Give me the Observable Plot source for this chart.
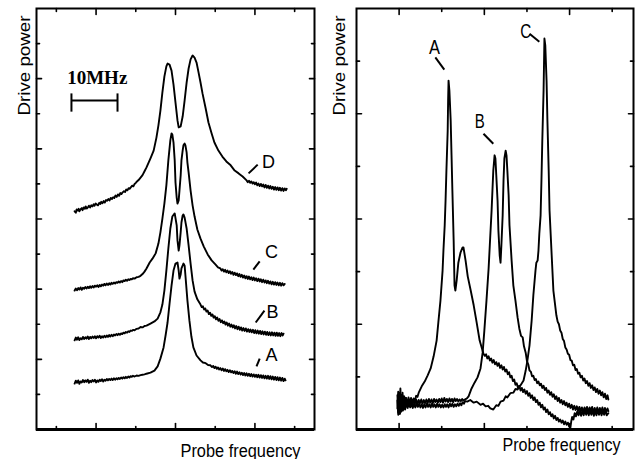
<!DOCTYPE html>
<html><head><meta charset="utf-8">
<script src="https://cdn.jsdelivr.net/npm/d3@7"></script>
<script src="https://cdn.jsdelivr.net/npm/@observablehq/plot@0.6"></script>
<style>
body{margin:0;background:#fff;width:641px;height:459px;overflow:hidden}
#wrap{display:flex;width:641px}
#wrap svg{display:block;max-width:none}
</style></head><body><div id="wrap"></div><script>
// ---------- Left panel: probe spectra at four drive powers (offset traces) ----------
const leftD = [[0.96,6.22],[0.99,6.18],[1.01,6.27],[1.04,6.24],[1.06,6.29],[1.08,6.22],[1.11,6.28],[1.14,6.31],[1.16,6.25],[1.19,6.33],[1.22,6.29],[1.24,6.36],[1.27,6.30],[1.30,6.34],[1.32,6.38],[1.35,6.33],[1.38,6.39],[1.41,6.36],[1.44,6.42],[1.46,6.38],[1.49,6.44],[1.52,6.41],[1.55,6.39],[1.58,6.46],[1.61,6.43],[1.63,6.49],[1.66,6.45],[1.69,6.51],[1.72,6.47],[1.75,6.54],[1.78,6.52],[1.81,6.57],[1.84,6.53],[1.87,6.60],[1.90,6.57],[1.93,6.62],[1.96,6.60],[1.99,6.67],[2.02,6.63],[2.05,6.70],[2.08,6.66],[2.11,6.74],[2.14,6.71],[2.17,6.76],[2.20,6.79],[2.23,6.77],[2.26,6.84],[2.29,6.82],[2.32,6.88],[2.35,6.86],[2.38,6.91],[2.41,6.95],[2.44,6.93],[2.47,7.00],[2.50,7.03],[2.53,7.07],[2.57,7.11],[2.62,7.18],[2.67,7.25],[2.72,7.36],[2.77,7.47],[2.82,7.60],[2.87,7.73],[2.95,7.95],[3.02,8.32],[3.07,8.67],[3.12,9.09],[3.17,9.61],[3.22,10.06],[3.27,10.35],[3.30,10.43],[3.35,10.40],[3.40,10.23],[3.45,9.83],[3.50,9.32],[3.55,8.81],[3.58,8.61],[3.63,8.64],[3.68,8.92],[3.73,9.38],[3.78,9.89],[3.83,10.29],[3.88,10.55],[3.93,10.66],[3.98,10.60],[4.03,10.46],[4.08,10.18],[4.13,9.89],[4.18,9.58],[4.26,9.15],[4.33,8.75],[4.41,8.44],[4.48,8.18],[4.58,7.95],[4.68,7.78],[4.78,7.64],[4.89,7.53],[4.99,7.38],[5.09,7.30],[5.19,7.21],[5.29,7.10],[5.32,7.05],[5.35,7.09],[5.38,7.03],[5.41,7.07],[5.44,7.01],[5.47,7.05],[5.50,6.99],[5.53,7.04],[5.56,6.96],[5.59,7.01],[5.62,6.94],[5.65,7.00],[5.68,6.93],[5.71,6.98],[5.74,6.90],[5.77,6.97],[5.80,6.89],[5.83,6.95],[5.86,6.87],[5.89,6.94],[5.92,6.86],[5.95,6.92],[5.98,6.84],[6.01,6.91],[6.04,6.83],[6.07,6.90],[6.10,6.82],[6.13,6.89],[6.16,6.81],[6.19,6.88],[6.22,6.80],[6.25,6.87],[6.28,6.82],[6.30,6.86]];
const leftC = [[0.96,3.96],[0.99,4.02],[1.02,3.97],[1.05,4.03],[1.08,3.99],[1.11,4.05],[1.14,3.98],[1.17,4.04],[1.20,4.01],[1.23,4.06],[1.26,4.02],[1.29,4.07],[1.32,4.03],[1.35,4.08],[1.38,4.04],[1.41,4.09],[1.44,4.05],[1.47,4.10],[1.50,4.07],[1.53,4.11],[1.56,4.06],[1.59,4.12],[1.62,4.08],[1.65,4.13],[1.68,4.10],[1.71,4.15],[1.74,4.11],[1.77,4.16],[1.80,4.12],[1.83,4.17],[1.86,4.13],[1.89,4.18],[1.92,4.15],[1.95,4.19],[1.98,4.16],[2.01,4.20],[2.04,4.18],[2.07,4.22],[2.10,4.19],[2.13,4.23],[2.16,4.20],[2.19,4.25],[2.22,4.23],[2.25,4.27],[2.28,4.24],[2.31,4.28],[2.34,4.26],[2.37,4.29],[2.40,4.28],[2.43,4.31],[2.47,4.30],[2.52,4.34],[2.57,4.35],[2.62,4.38],[2.67,4.43],[2.72,4.50],[2.77,4.59],[2.85,4.76],[2.92,4.87],[3.00,5.02],[3.07,5.30],[3.12,5.62],[3.17,6.01],[3.22,6.44],[3.27,6.96],[3.32,7.67],[3.37,8.24],[3.40,8.44],[3.42,8.41],[3.45,8.18],[3.48,7.67],[3.50,7.04],[3.53,6.61],[3.55,6.44],[3.58,6.53],[3.60,6.81],[3.63,7.24],[3.65,7.67],[3.68,7.95],[3.70,8.10],[3.73,8.15],[3.75,8.10],[3.78,7.90],[3.80,7.61],[3.83,7.33],[3.88,6.81],[3.93,6.39],[3.98,6.07],[4.05,5.70],[4.13,5.44],[4.21,5.22],[4.31,4.99],[4.41,4.82],[4.51,4.70],[4.57,4.62],[4.63,4.59],[4.66,4.53],[4.69,4.57],[4.72,4.50],[4.75,4.55],[4.78,4.48],[4.81,4.53],[4.84,4.46],[4.87,4.51],[4.90,4.44],[4.93,4.49],[4.96,4.41],[4.99,4.47],[5.02,4.40],[5.05,4.45],[5.08,4.37],[5.11,4.43],[5.14,4.35],[5.17,4.41],[5.20,4.33],[5.23,4.39],[5.26,4.31],[5.29,4.37],[5.32,4.29],[5.35,4.36],[5.38,4.28],[5.41,4.34],[5.44,4.26],[5.47,4.33],[5.50,4.25],[5.53,4.31],[5.56,4.23],[5.59,4.30],[5.62,4.22],[5.65,4.28],[5.68,4.20],[5.71,4.27],[5.74,4.19],[5.77,4.25],[5.80,4.17],[5.83,4.24],[5.86,4.16],[5.89,4.22],[5.92,4.14],[5.95,4.21],[5.98,4.13],[6.01,4.20],[6.04,4.12],[6.07,4.19],[6.10,4.11],[6.13,4.18],[6.16,4.10],[6.19,4.17],[6.22,4.11],[6.25,4.15]];
const leftB = [[0.96,2.54],[0.99,2.62],[1.02,2.56],[1.05,2.63],[1.08,2.55],[1.11,2.60],[1.14,2.57],[1.17,2.64],[1.20,2.58],[1.23,2.63],[1.26,2.59],[1.29,2.65],[1.32,2.58],[1.35,2.64],[1.38,2.60],[1.41,2.65],[1.44,2.61],[1.47,2.66],[1.50,2.60],[1.53,2.66],[1.56,2.62],[1.59,2.67],[1.62,2.61],[1.65,2.66],[1.68,2.62],[1.71,2.67],[1.74,2.63],[1.77,2.68],[1.80,2.64],[1.83,2.69],[1.86,2.65],[1.89,2.70],[1.92,2.66],[1.95,2.71],[1.98,2.68],[2.01,2.72],[2.04,2.69],[2.07,2.73],[2.10,2.70],[2.13,2.74],[2.16,2.72],[2.19,2.76],[2.22,2.74],[2.25,2.78],[2.28,2.76],[2.31,2.80],[2.34,2.78],[2.37,2.82],[2.40,2.81],[2.43,2.84],[2.47,2.83],[2.52,2.87],[2.57,2.88],[2.62,2.92],[2.67,2.91],[2.72,2.95],[2.77,2.96],[2.87,3.02],[2.97,3.08],[3.05,3.16],[3.12,3.34],[3.17,3.56],[3.22,3.96],[3.27,4.53],[3.32,5.16],[3.37,5.73],[3.42,6.07],[3.48,6.16],[3.53,5.82],[3.55,5.39],[3.58,5.10],[3.60,5.25],[3.63,5.62],[3.65,5.90],[3.68,6.10],[3.70,6.13],[3.73,6.04],[3.78,5.73],[3.83,5.25],[3.88,4.73],[3.93,4.25],[3.98,3.93],[4.05,3.71],[4.13,3.56],[4.16,3.49],[4.19,3.51],[4.22,3.42],[4.25,3.45],[4.28,3.36],[4.31,3.39],[4.34,3.29],[4.37,3.33],[4.40,3.24],[4.43,3.28],[4.46,3.19],[4.49,3.23],[4.52,3.14],[4.55,3.19],[4.58,3.10],[4.61,3.15],[4.64,3.06],[4.67,3.11],[4.70,3.03],[4.73,3.08],[4.76,2.99],[4.79,3.05],[4.82,2.96],[4.85,3.02],[4.88,2.93],[4.91,2.99],[4.94,2.91],[4.97,2.97],[5.00,2.88],[5.03,2.95],[5.06,2.86],[5.09,2.93],[5.12,2.84],[5.15,2.91],[5.18,2.82],[5.21,2.89],[5.24,2.81],[5.27,2.88],[5.30,2.79],[5.33,2.86],[5.36,2.78],[5.39,2.85],[5.42,2.77],[5.45,2.84],[5.48,2.75],[5.51,2.83],[5.54,2.74],[5.57,2.82],[5.60,2.73],[5.63,2.81],[5.66,2.72],[5.69,2.80],[5.72,2.71],[5.75,2.79],[5.78,2.70],[5.81,2.78],[5.84,2.69],[5.87,2.77],[5.90,2.68],[5.93,2.77],[5.96,2.68],[5.99,2.76],[6.02,2.67],[6.05,2.76],[6.08,2.67],[6.11,2.75],[6.14,2.66],[6.17,2.75],[6.20,2.68],[6.22,2.73]];
const leftA = [[0.96,1.31],[0.99,1.39],[1.02,1.33],[1.05,1.40],[1.08,1.30],[1.11,1.37],[1.14,1.34],[1.17,1.41],[1.20,1.35],[1.23,1.40],[1.26,1.36],[1.29,1.42],[1.32,1.33],[1.35,1.39],[1.38,1.35],[1.41,1.41],[1.44,1.37],[1.47,1.42],[1.50,1.34],[1.53,1.40],[1.56,1.36],[1.59,1.42],[1.62,1.38],[1.65,1.43],[1.68,1.37],[1.71,1.42],[1.74,1.39],[1.77,1.44],[1.80,1.40],[1.83,1.44],[1.86,1.41],[1.89,1.45],[1.92,1.41],[1.95,1.46],[1.98,1.42],[2.01,1.46],[2.04,1.43],[2.07,1.47],[2.10,1.44],[2.13,1.48],[2.16,1.45],[2.19,1.49],[2.22,1.46],[2.25,1.50],[2.28,1.47],[2.31,1.51],[2.34,1.48],[2.37,1.52],[2.40,1.50],[2.43,1.53],[2.47,1.51],[2.52,1.54],[2.57,1.53],[2.62,1.55],[2.67,1.56],[2.72,1.57],[2.77,1.59],[2.87,1.62],[2.97,1.68],[3.05,1.80],[3.12,2.02],[3.20,2.34],[3.25,2.68],[3.30,3.05],[3.35,3.59],[3.40,4.10],[3.45,4.53],[3.50,4.73],[3.55,4.76],[3.58,4.53],[3.60,4.30],[3.63,4.42],[3.65,4.59],[3.70,4.73],[3.73,4.67],[3.75,4.39],[3.80,3.68],[3.85,3.11],[3.90,2.65],[3.95,2.34],[4.03,2.11],[4.13,1.97],[4.19,1.91],[4.26,1.89],[4.32,1.84],[4.38,1.83],[4.42,1.78],[4.45,1.81],[4.48,1.75],[4.51,1.79],[4.54,1.73],[4.57,1.77],[4.60,1.71],[4.63,1.75],[4.66,1.69],[4.69,1.74],[4.72,1.67],[4.75,1.72],[4.78,1.66],[4.81,1.70],[4.84,1.64],[4.87,1.69],[4.90,1.63],[4.93,1.67],[4.96,1.61],[4.99,1.66],[5.02,1.59],[5.05,1.65],[5.08,1.58],[5.11,1.63],[5.14,1.57],[5.17,1.62],[5.20,1.55],[5.23,1.61],[5.26,1.54],[5.29,1.60],[5.32,1.53],[5.35,1.59],[5.38,1.52],[5.41,1.58],[5.44,1.51],[5.47,1.57],[5.50,1.50],[5.53,1.56],[5.56,1.49],[5.59,1.56],[5.62,1.48],[5.65,1.55],[5.68,1.47],[5.71,1.54],[5.74,1.46],[5.77,1.53],[5.80,1.45],[5.83,1.53],[5.86,1.44],[5.89,1.52],[5.92,1.43],[5.95,1.51],[5.98,1.42],[6.01,1.50],[6.04,1.41],[6.07,1.49],[6.10,1.40],[6.13,1.48],[6.16,1.39],[6.19,1.47],[6.22,1.38],[6.25,1.45],[6.27,1.40]];

// ---------- Right panel: spectra A, B, C ----------
const rightA = [[0.96,0.40],[0.98,0.72],[0.99,0.38],[1.01,0.66],[1.02,0.30],[1.04,0.62],[1.06,0.36],[1.08,0.70],[1.10,0.44],[1.12,0.63],[1.14,0.41],[1.16,0.60],[1.19,0.45],[1.22,0.61],[1.25,0.48],[1.28,0.60],[1.31,0.50],[1.34,0.59],[1.37,0.55],[1.40,0.64],[1.43,0.62],[1.46,0.70],[1.53,0.82],[1.60,0.91],[1.67,1.03],[1.74,1.16],[1.81,1.39],[1.88,1.69],[1.92,2.03],[1.97,2.45],[2.02,3.02],[2.04,3.40],[2.07,3.88],[2.09,4.35],[2.11,4.92],[2.14,5.68],[2.15,6.25],[2.16,6.63],[2.18,6.44],[2.21,5.87],[2.23,5.21],[2.25,4.54],[2.28,3.59],[2.30,2.74],[2.32,2.64],[2.35,2.83],[2.39,3.17],[2.44,3.36],[2.49,3.46],[2.51,3.46],[2.56,3.21],[2.61,2.91],[2.68,2.64],[2.75,2.36],[2.82,2.03],[2.89,1.69],[2.98,1.44],[3.01,1.40],[3.04,1.43],[3.07,1.35],[3.10,1.39],[3.13,1.31],[3.16,1.35],[3.19,1.27],[3.22,1.32],[3.25,1.24],[3.28,1.28],[3.31,1.21],[3.34,1.26],[3.37,1.17],[3.40,1.22],[3.43,1.14],[3.46,1.19],[3.49,1.10],[3.52,1.14],[3.55,1.05],[3.58,1.09],[3.61,0.99],[3.64,1.02],[3.67,0.92],[3.70,0.95],[3.73,0.85],[3.76,0.88],[3.79,0.79],[3.82,0.83],[3.85,0.74],[3.88,0.79],[3.91,0.71],[3.94,0.76],[3.97,0.68],[4.00,0.73],[4.03,0.64],[4.06,0.69],[4.09,0.60],[4.12,0.65],[4.15,0.56],[4.18,0.61],[4.21,0.52],[4.24,0.56],[4.27,0.47],[4.30,0.51],[4.33,0.42],[4.36,0.47],[4.39,0.38],[4.42,0.42],[4.45,0.33],[4.48,0.38],[4.51,0.29],[4.54,0.33],[4.57,0.25],[4.60,0.29],[4.63,0.21],[4.66,0.26],[4.69,0.18],[4.72,0.22],[4.75,0.15],[4.78,0.19],[4.81,0.13],[4.84,0.17],[4.87,0.10],[4.90,0.15],[4.93,0.09],[4.96,0.13],[4.99,0.06],[5.02,0.04],[5.04,0.16],[5.06,0.24],[5.09,0.19],[5.12,0.31],[5.15,0.25],[5.18,0.34],[5.21,0.27],[5.24,0.35],[5.27,0.26],[5.30,0.36],[5.33,0.27],[5.36,0.37],[5.39,0.28],[5.42,0.36],[5.45,0.27],[5.48,0.37],[5.51,0.28],[5.54,0.36],[5.57,0.26],[5.60,0.35],[5.63,0.27],[5.66,0.37],[5.69,0.28],[5.72,0.36],[5.75,0.27],[5.78,0.35],[5.81,0.28],[5.84,0.36],[5.87,0.27],[5.91,0.31]];
const rightB = [[0.96,0.65],[0.98,0.32],[0.99,0.70],[1.01,0.40],[1.03,0.78],[1.05,0.36],[1.07,0.66],[1.09,0.42],[1.11,0.63],[1.13,0.40],[1.16,0.60],[1.19,0.44],[1.22,0.58],[1.25,0.46],[1.28,0.57],[1.31,0.47],[1.34,0.56],[1.37,0.49],[1.40,0.57],[1.43,0.48],[1.46,0.56],[1.49,0.50],[1.52,0.57],[1.55,0.49],[1.58,0.56],[1.61,0.50],[1.64,0.57],[1.67,0.50],[1.70,0.58],[1.73,0.51],[1.76,0.57],[1.79,0.50],[1.82,0.58],[1.85,0.52],[1.88,0.57],[1.91,0.51],[1.94,0.58],[1.97,0.52],[2.00,0.59],[2.03,0.51],[2.06,0.60],[2.09,0.53],[2.12,0.58],[2.15,0.52],[2.18,0.59],[2.21,0.53],[2.24,0.58],[2.27,0.52],[2.30,0.59],[2.33,0.54],[2.36,0.58],[2.39,0.53],[2.42,0.57],[2.45,0.54],[2.48,0.58],[2.51,0.55],[2.54,0.57],[2.57,0.58],[2.60,0.60],[2.63,0.63],[2.70,0.78],[2.77,0.89],[2.84,0.99],[2.91,1.16],[2.96,1.46],[3.00,1.88],[3.05,2.45],[3.10,3.06],[3.14,3.69],[3.17,4.16],[3.19,4.54],[3.21,4.92],[3.24,5.21],[3.26,5.15],[3.28,4.83],[3.31,4.35],[3.33,3.78],[3.36,3.31],[3.38,3.17],[3.40,3.50],[3.43,4.07],[3.45,4.73],[3.47,5.15],[3.50,5.30],[3.52,5.21],[3.54,4.92],[3.57,4.45],[3.59,3.88],[3.64,3.21],[3.68,2.74],[3.73,2.45],[3.78,2.13],[3.82,1.92],[3.86,1.78],[3.90,1.75],[3.93,1.58],[3.97,1.46],[4.00,1.30],[4.03,1.24],[4.06,1.12],[4.09,1.10],[4.12,1.01],[4.15,1.02],[4.18,0.94],[4.21,0.96],[4.24,0.88],[4.27,0.91],[4.30,0.84],[4.33,0.87],[4.36,0.79],[4.39,0.83],[4.42,0.75],[4.45,0.79],[4.48,0.70],[4.51,0.74],[4.54,0.66],[4.57,0.71],[4.60,0.62],[4.63,0.67],[4.66,0.58],[4.69,0.63],[4.72,0.54],[4.75,0.60],[4.78,0.51],[4.81,0.56],[4.84,0.48],[4.87,0.54],[4.90,0.46],[4.93,0.51],[4.96,0.43],[4.99,0.49],[5.02,0.41],[5.05,0.47],[5.08,0.38],[5.11,0.45],[5.14,0.37],[5.17,0.44],[5.20,0.35],[5.23,0.43],[5.26,0.34],[5.29,0.42],[5.32,0.33],[5.35,0.42],[5.38,0.34],[5.41,0.43],[5.44,0.33],[5.47,0.42],[5.50,0.34],[5.53,0.43],[5.56,0.32],[5.59,0.41],[5.62,0.33],[5.65,0.42],[5.68,0.32],[5.71,0.41],[5.74,0.33],[5.77,0.42],[5.80,0.32],[5.83,0.41],[5.86,0.33],[5.89,0.40],[5.91,0.35]];
const rightC = [[0.96,0.55],[0.98,0.28],[0.99,0.62],[1.01,0.30],[1.03,0.66],[1.05,0.34],[1.07,0.58],[1.09,0.36],[1.11,0.54],[1.14,0.38],[1.17,0.52],[1.20,0.41],[1.23,0.51],[1.26,0.42],[1.29,0.50],[1.32,0.41],[1.35,0.49],[1.38,0.42],[1.41,0.50],[1.44,0.43],[1.47,0.49],[1.50,0.42],[1.53,0.48],[1.56,0.41],[1.59,0.48],[1.62,0.42],[1.65,0.49],[1.68,0.43],[1.71,0.48],[1.74,0.42],[1.77,0.49],[1.80,0.43],[1.83,0.48],[1.86,0.42],[1.89,0.49],[1.92,0.43],[1.95,0.48],[1.98,0.42],[2.01,0.47],[2.04,0.42],[2.07,0.48],[2.10,0.43],[2.13,0.48],[2.16,0.42],[2.19,0.49],[2.22,0.44],[2.25,0.49],[2.28,0.43],[2.31,0.48],[2.34,0.44],[2.37,0.49],[2.40,0.45],[2.43,0.50],[2.46,0.46],[2.49,0.52],[2.52,0.49],[2.55,0.54],[2.60,0.53],[2.67,0.56],[2.75,0.51],[2.82,0.53],[2.91,0.47],[2.97,0.49],[3.03,0.44],[3.09,0.45],[3.14,0.40],[3.21,0.38],[3.28,0.46],[3.33,0.45],[3.38,0.53],[3.45,0.55],[3.50,0.63],[3.54,0.61],[3.61,0.69],[3.68,0.70],[3.73,0.77],[3.78,0.76],[3.85,0.84],[3.92,0.93],[3.97,1.12],[4.01,1.31],[4.06,1.60],[4.11,2.07],[4.15,2.55],[4.20,3.02],[4.22,3.17],[4.25,3.21],[4.27,3.40],[4.29,3.72],[4.32,4.07],[4.34,4.73],[4.36,5.49],[4.39,6.44],[4.41,7.43],[4.43,7.30],[4.46,6.63],[4.48,5.87],[4.51,4.92],[4.53,4.16],[4.58,3.31],[4.62,2.64],[4.69,2.17],[4.72,2.05],[4.75,2.00],[4.78,1.88],[4.81,1.84],[4.84,1.72],[4.87,1.68],[4.90,1.56],[4.93,1.52],[4.96,1.44],[4.99,1.42],[5.02,1.32],[5.05,1.31],[5.08,1.22],[5.11,1.23],[5.14,1.13],[5.17,1.15],[5.20,1.06],[5.23,1.08],[5.26,0.99],[5.29,1.02],[5.32,0.93],[5.35,0.97],[5.38,0.88],[5.41,0.92],[5.44,0.83],[5.47,0.88],[5.50,0.79],[5.53,0.84],[5.56,0.75],[5.59,0.80],[5.62,0.71],[5.65,0.77],[5.68,0.68],[5.71,0.74],[5.74,0.65],[5.77,0.71],[5.80,0.61],[5.83,0.68],[5.86,0.58],[5.89,0.65],[5.91,0.57]];

// ---------- Axes (unlabelled ticks) ----------
const leftXDomain = [0, 7], leftYDomain = [0, 12];
const leftXMajor = [1.5, 3.5, 5.5], leftXMinor = [0.5, 2.5, 4.5, 6.5];
const leftYMajor = [2, 4, 6, 8, 10], leftYMinor = [1, 3, 5, 7, 9, 11];
const rightXDomain = [0, 6.5], rightYDomain = [0, 8];
const rightXMajor = [1, 3, 5], rightXMinor = [2, 4, 6];
const rightYMajor = [2, 4, 6], rightYMinor = [1, 3, 5, 7];

// ---------- Annotations ----------
const leftLabelNames = ["D", "C", "B", "A"];
const leftLabelX = [5.84, 5.92, 5.94, 5.92];
const leftLabelY = [7.44, 4.90, 3.19, 1.94];
const leftLeader = [[5.34,7.30,5.57,7.55],[5.46,4.56,5.62,4.79],[5.52,3.05,5.74,3.39],[5.54,1.80,5.62,2.02]];
const rightLabelNames = ["A", "B", "C"];
const rightLabelX = [1.83, 2.89, 3.97];
const rightLabelY = [7.14, 5.72, 7.43];
const rightLeader = [[1.85,7.07,2.06,6.84],[2.98,5.62,3.21,5.43],[4.06,7.52,4.29,7.37]];
const scaleBarText = "10MHz";
const scaleBar = {x1: 0.88, x2: 2.04, y: 9.38, yLow: 9.06, yHigh: 9.58, textX: 1.53, textY: 9.86};
const yTitle = "Drive power", xTitle = "Probe frequency";

const SANS = "'Liberation Sans', Arial, Helvetica, sans-serif";
const lineShape = {draw(ctx, l) { ctx.moveTo(0, 0); ctx.lineTo(0, -l); }};

function tickMarks(xd, yd, xMaj, xMin, yMaj, yMin) {
  const v = (data, o) => Plot.vector(data, {...o, anchor: "start", shape: lineShape, stroke: "black", strokeWidth: 1.6});
  const M = 5, m = 3;
  return [
    v(yMaj, {x: () => xd[0], y: d => d, rotate: 90, length: M}),
    v(yMin, {x: () => xd[0], y: d => d, rotate: 90, length: m}),
    v(yMaj, {x: () => xd[1], y: d => d, rotate: 270, length: M}),
    v(yMin, {x: () => xd[1], y: d => d, rotate: 270, length: m}),
    v(xMaj, {x: d => d, y: () => yd[0], rotate: 0, length: M + 1}),
    v(xMin, {x: d => d, y: () => yd[0], rotate: 0, length: m}),
    v(xMaj, {x: d => d, y: () => yd[1], rotate: 180, length: M + 1}),
    v(xMin, {x: d => d, y: () => yd[1], rotate: 180, length: m})
  ];
}

const lineOpts = {x: d => d[0], y: d => d[1], stroke: "black", strokeWidth: 1.9, strokeLinejoin: "round"};

const left = Plot.plot({
  width: 320, height: 459, marginLeft: 36, marginRight: 6, marginTop: 8, marginBottom: 30,
  x: {domain: leftXDomain, axis: null}, y: {domain: leftYDomain, axis: null},
  style: {background: "white", overflow: "visible"},
  marks: [
    Plot.frame({stroke: "black", strokeWidth: 2}),
    Plot.ruleY([leftYDomain[0]], {stroke: "black", strokeWidth: 3}),
    ...tickMarks(leftXDomain, leftYDomain, leftXMajor, leftXMinor, leftYMajor, leftYMinor),
    Plot.line(leftA, lineOpts),
    Plot.line(leftB, lineOpts),
    Plot.line(leftC, lineOpts),
    Plot.line(leftD, lineOpts),
    Plot.link(leftLeader, {x1: d => d[0], y1: d => d[1], x2: d => d[2], y2: d => d[3], stroke: "black", strokeWidth: 2}),
    Plot.text(leftLabelNames, {x: (d, i) => leftLabelX[i], y: (d, i) => leftLabelY[i], text: d => d, lineAnchor: "bottom", fontSize: 18, fontFamily: SANS, fill: "black"}),
    Plot.link([scaleBar], {x1: "x1", x2: "x2", y1: "y", y2: "y", stroke: "black", strokeWidth: 2}),
    Plot.link([scaleBar, scaleBar], {x1: (d, i) => i ? d.x2 : d.x1, x2: (d, i) => i ? d.x2 : d.x1, y1: "yLow", y2: "yHigh", stroke: "black", strokeWidth: 2}),
    Plot.text([scaleBarText], {x: () => scaleBar.textX, y: () => scaleBar.textY, text: d => d, lineAnchor: "bottom", fontSize: 19, fontWeight: "bold", fontFamily: "'Liberation Serif', 'Times New Roman', serif", fill: "black"}),
    Plot.text([yTitle], {frameAnchor: "top-left", dx: -7, dy: 107, rotate: -90, textAnchor: "start", lineAnchor: "bottom", fontSize: 16, fontFamily: SANS, fill: "black"}),
    Plot.text([xTitle], {frameAnchor: "bottom-left", dx: 144, dy: 27, textAnchor: "start", lineAnchor: "bottom", fontSize: 18, fontFamily: SANS, fill: "black"})
  ]
});

const right = Plot.plot({
  width: 321, height: 459, marginLeft: 36, marginRight: 8, marginTop: 8, marginBottom: 30,
  x: {domain: rightXDomain, axis: null}, y: {domain: rightYDomain, axis: null},
  style: {background: "white", overflow: "visible"},
  marks: [
    Plot.frame({stroke: "black", strokeWidth: 2}),
    Plot.ruleY([rightYDomain[0]], {stroke: "black", strokeWidth: 3}),
    ...tickMarks(rightXDomain, rightYDomain, rightXMajor, rightXMinor, rightYMajor, rightYMinor),
    Plot.line(rightA, lineOpts),
    Plot.line(rightB, lineOpts),
    Plot.line(rightC, lineOpts),
    Plot.link(rightLeader, {x1: d => d[0], y1: d => d[1], x2: d => d[2], y2: d => d[3], stroke: "black", strokeWidth: 2}),
    Plot.text(rightLabelNames, {x: (d, i) => rightLabelX[i], y: (d, i) => rightLabelY[i], text: d => d, lineAnchor: "bottom", fontSize: 20, fontFamily: SANS, fill: "black"}),
    Plot.text([yTitle], {frameAnchor: "top-left", dx: -12, dy: 107, rotate: -90, textAnchor: "start", lineAnchor: "bottom", fontSize: 16, fontFamily: SANS, fill: "black"}),
    Plot.text([xTitle], {frameAnchor: "bottom-left", dx: 146, dy: 21, textAnchor: "start", lineAnchor: "bottom", fontSize: 18, fontFamily: SANS, fill: "black"})
  ]
});

// squeeze / stretch text runs to the reference widths
function fit(svg, map) {
  d3.select(svg).selectAll("text").each(function () {
    const t = this.textContent;
    if (map[t] != null) {
      this.setAttribute("textLength", map[t]);
      this.setAttribute("lengthAdjust", "spacingAndGlyphs");
    }
  });
}
fit(left, {"Drive power": 100, "Probe frequency": 120});
fit(right, {"Drive power": 100, "Probe frequency": 118, "A": 11, "B": 10, "C": 11});

document.getElementById("wrap").append(left, right);
</script></body></html>
